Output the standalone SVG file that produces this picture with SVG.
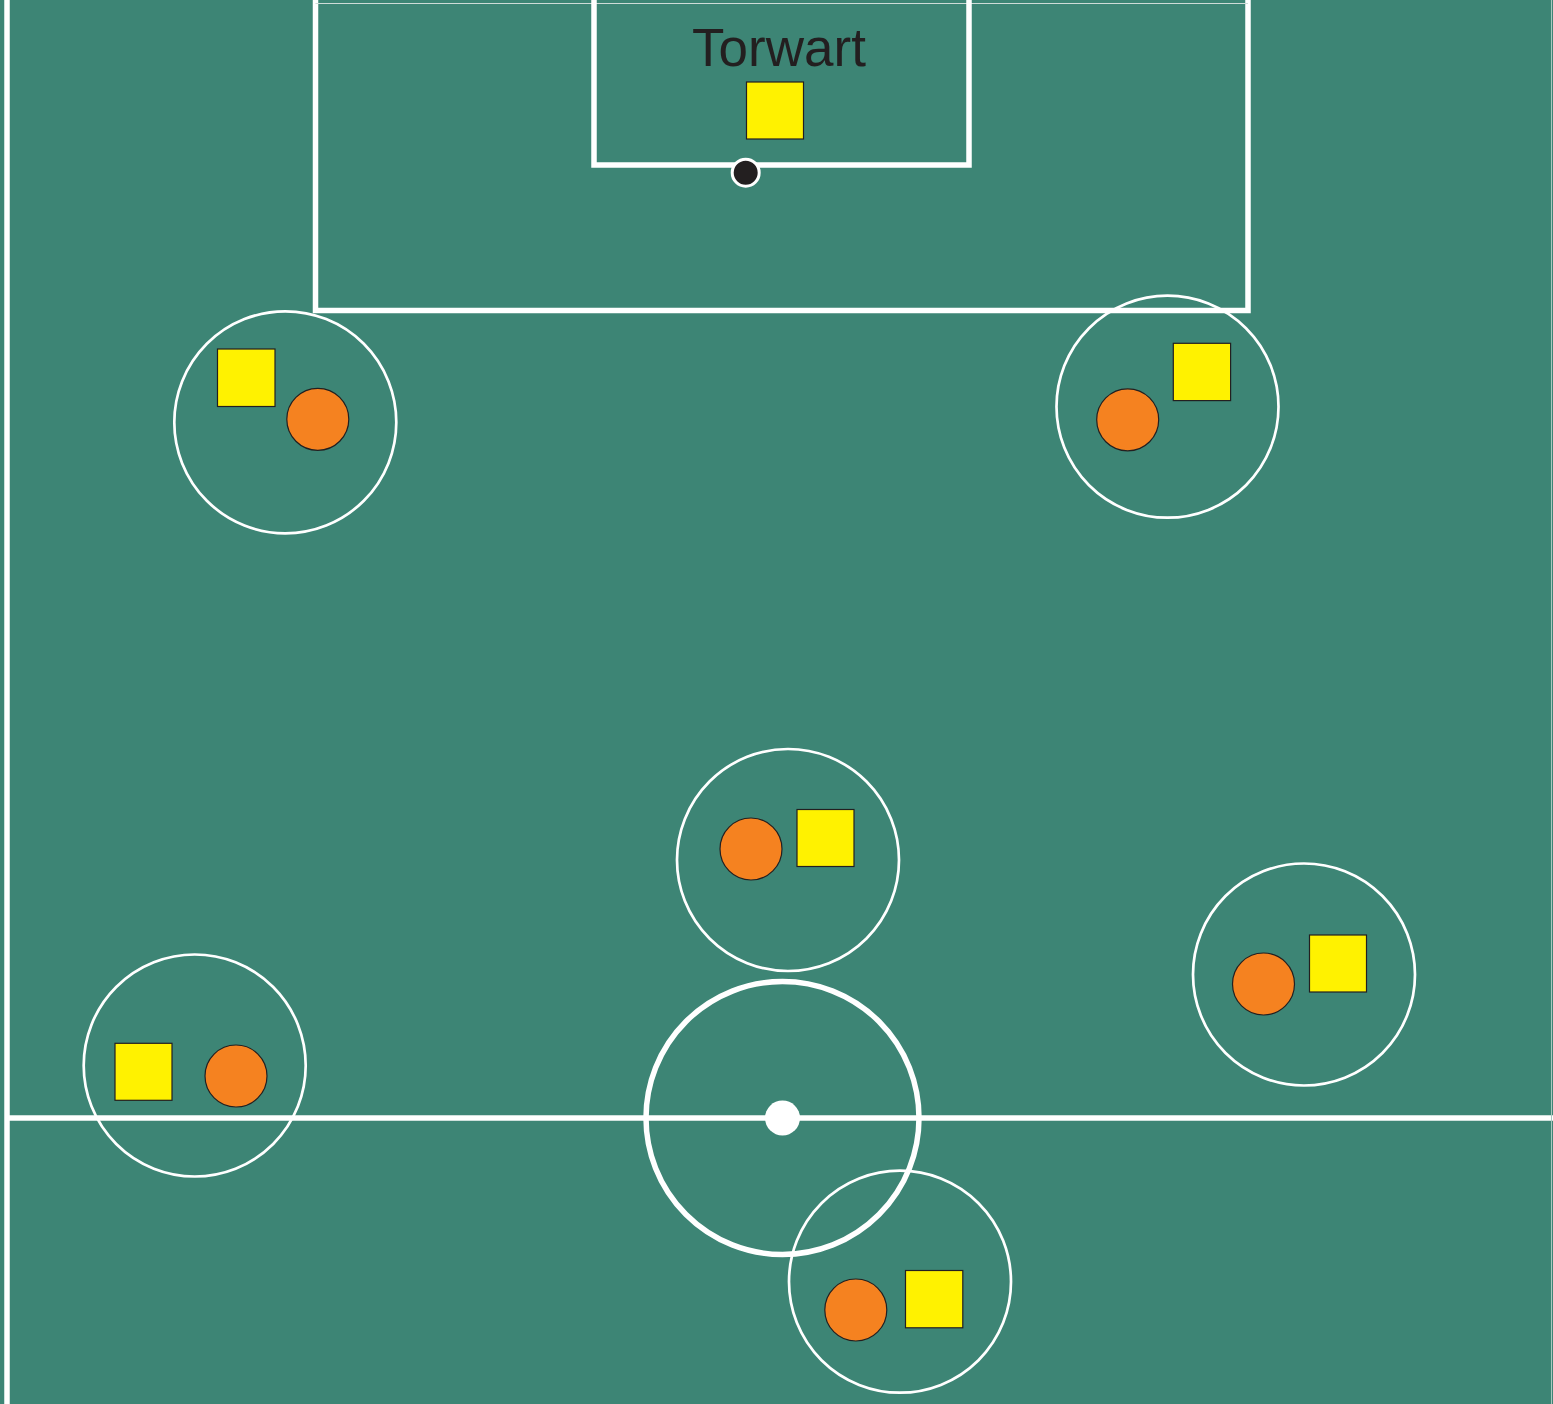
<svg xmlns="http://www.w3.org/2000/svg" width="1553" height="1404" viewBox="0 0 1553 1404">
<style>
.line{fill:none;stroke:#fff;stroke-width:5.5}
.zone{fill:none;stroke:#fff;stroke-width:2.7}
.sq{fill:#fff200;stroke:#231f20;stroke-width:1.2}
.pl{fill:#f58220;stroke:#231f20;stroke-width:1.2}
.lbl{font-family:"Liberation Sans",Arial,sans-serif;font-size:53px;fill:#231f20;text-anchor:middle}
</style>
<rect x="0" y="0" width="1553" height="1404" fill="#3d8575"/>
<g id="pitch">
<line x1="7" y1="0" x2="7" y2="1404" class="line"/>
<line x1="9" y1="1118" x2="1553" y2="1118" class="line"/>
<line x1="1551.5" y1="0" x2="1551.5" y2="1404" stroke="#a9c7bf" stroke-width="1"/>
<path d="M315.5 0 V310.5 H1248 V0" class="line"/>
<line x1="315.5" y1="3.5" x2="1248" y2="3.5" stroke="#cfdcd8" stroke-width="1.2"/>
<path d="M594 0 V165 H969 V0" class="line"/>
<circle cx="782.5" cy="1118" r="136.5" class="line" stroke-width="5"/>
<circle cx="782.5" cy="1118" r="17.5" fill="#fff"/>
</g>
<g id="goalkeeper">
<text x="779" y="65.5" class="lbl">Torwart</text>
<rect x="746.5" y="82" width="57" height="57" class="sq"/>
</g>
<g id="ball">
<circle cx="745.7" cy="172.7" r="13.5" fill="#231f20" stroke="#fff" stroke-width="3"/>
</g>
<g id="player1">
<circle cx="285.3" cy="422.3" r="111" class="zone"/>
<rect x="217.5" y="349" width="57.5" height="57.5" class="sq"/>
<circle cx="317.8" cy="419.3" r="31" class="pl"/>
</g>
<g id="player2">
<circle cx="1167.5" cy="406.7" r="111" class="zone"/>
<rect x="1173.3" y="343.3" width="57.3" height="57.3" class="sq"/>
<circle cx="1127.7" cy="419.8" r="31" class="pl"/>
</g>
<g id="player3">
<circle cx="788" cy="860" r="111" class="zone"/>
<rect x="797" y="809.5" width="57" height="57" class="sq"/>
<circle cx="751" cy="849" r="31" class="pl"/>
</g>
<g id="player4">
<circle cx="1304" cy="974.5" r="111" class="zone"/>
<rect x="1309.5" y="935" width="57" height="57" class="sq"/>
<circle cx="1263.5" cy="984" r="31" class="pl"/>
</g>
<g id="player5">
<circle cx="194.7" cy="1065.5" r="111" class="zone"/>
<rect x="115" y="1043.3" width="57" height="57" class="sq"/>
<circle cx="236" cy="1076" r="31" class="pl"/>
</g>
<g id="player6">
<circle cx="900" cy="1281.7" r="111" class="zone"/>
<rect x="905.5" y="1270.5" width="57.3" height="57.3" class="sq"/>
<circle cx="855.8" cy="1310" r="31" class="pl"/>
</g>
<g id="connectors"></g>
</svg>
